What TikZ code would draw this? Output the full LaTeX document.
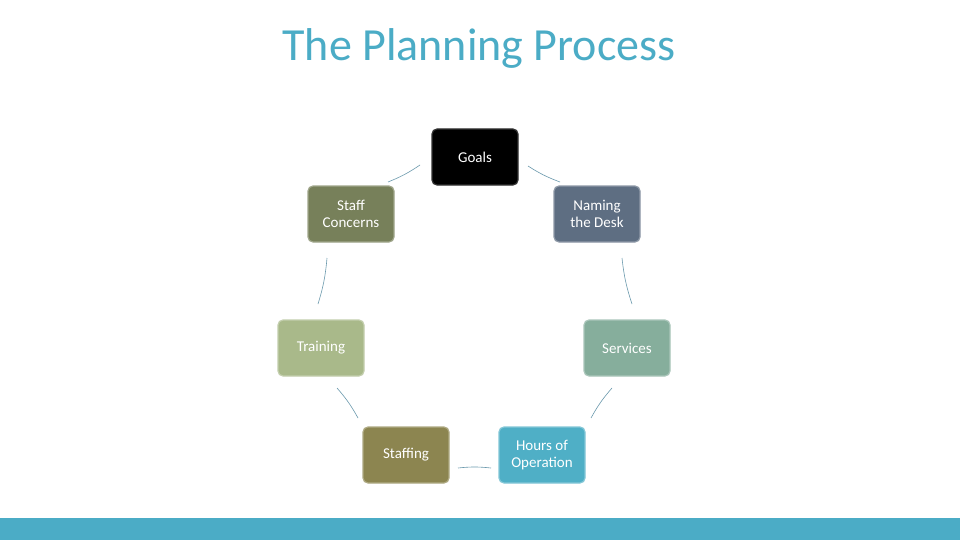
\documentclass[tikz,border=0pt]{standalone}
\usepackage{fontspec}
\setmainfont{Carlito}
\begin{document}
\begin{tikzpicture}[x=1pt,y=-1pt,
  box/.style={draw=#1!70!white,line width=1.2pt,fill=#1,rounded corners=5pt,minimum width=86pt,minimum height=56pt,text=white,font=\fontsize{15}{17}\selectfont,align=center,inner sep=2pt},
  link/.style={draw=black!20!cyan!50!gray,line width=0.6pt}]
\definecolor{ttl}{HTML}{4BACC6}
\definecolor{cG}{HTML}{000000}\definecolor{cS}{HTML}{77805A}\definecolor{cN}{HTML}{5E6E82}
\definecolor{cT}{HTML}{A9B98A}\definecolor{cV}{HTML}{86AE9C}\definecolor{cF}{HTML}{8C8550}\definecolor{cH}{HTML}{4FAFC6}
\useasboundingbox (0,0) rectangle (960,540);
\fill[white] (0,0) rectangle (960,540);
\fill[ttl] (0,518) rectangle (960,540);
\node[text=ttl,font=\fontsize{46}{50}\selectfont] (title) at (479,48) {The Planning Process};
\node[box=cG,draw=black!80!white] (g) at (475,157) {Goals};
\node[box=cS] (s) at (351,214) {Staff\\Concerns};
\node[box=cN] (n) at (597,214) {Naming\\the Desk};
\node[box=cT] (t) at (321,348) {Training};
\node[box=cV] (v) at (627,348) {Services};
\node[box=cF] (f) at (406,455) {Staffing};
\node[box=cH] (h) at (542,455) {Hours of\\Operation};
\coordinate (a1) at (420,165); \coordinate (a2) at (388,182);
\coordinate (b1) at (528,166); \coordinate (b2) at (560,182);
\coordinate (c1) at (327,258); \coordinate (c2) at (318,304);
\coordinate (d1) at (622,258); \coordinate (d2) at (632,304);
\coordinate (e1) at (337,388); \coordinate (e2) at (358,418);
\coordinate (k1) at (612,388); \coordinate (k2) at (591,418);
\coordinate (m1) at (458,468); \coordinate (m2) at (491,468);
\draw[link] (a1) to[bend left=6] (a2);
\draw[link] (b1) to[bend right=6] (b2);
\draw[link] (c1) to[bend left=6] (c2);
\draw[link] (d1) to[bend right=6] (d2);
\draw[link] (e1) to[bend left=6] (e2);
\draw[link] (k1) to[bend right=6] (k2);
\draw[link] (m1) to[bend left=6] (m2);
\end{tikzpicture}
\end{document}
